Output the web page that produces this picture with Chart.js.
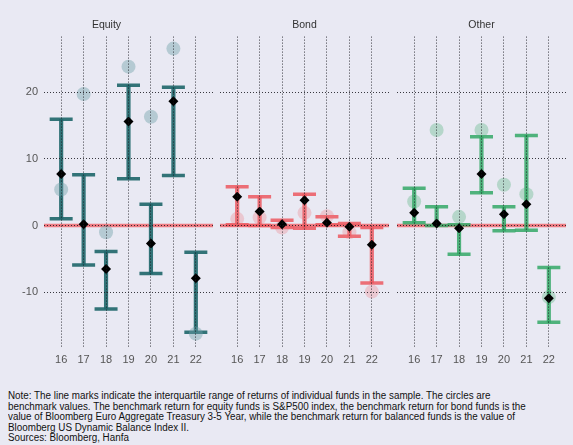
<!DOCTYPE html>
<html>
<head>
<meta charset="utf-8">
<script src="https://cdn.jsdelivr.net/npm/chart.js@4"></script>
<style>
  html, body { margin: 0; padding: 0; width: 573px; height: 445px; overflow: hidden;
    background: #e9e9f3; font-family: "Liberation Sans", Arial, sans-serif; }
  .panel { position: absolute; top: 0; height: 370px; }
  #note { position: absolute; left: 8px; top: 391px; font-size: 10px; line-height: 10.5px;
    color: #111; white-space: nowrap; transform-origin: 0 0; }
  #note div { width: max-content; }
</style>
</head>
<body>
<div class="panel" style="left:0px;width:213px"><canvas id="equity"></canvas></div>
<div class="panel" style="left:220px;width:169px"><canvas id="bond"></canvas></div>
<div class="panel" style="left:397px;width:169px"><canvas id="other"></canvas></div>
<div id="note">
  <div>Note: The line marks indicate the interquartile range of returns of individual funds in the sample. The circles are</div>
  <div>benchmark values. The benchmark return for equity funds is S&amp;P500 index, the benchmark return for bond funds is the</div>
  <div id="longest">value of Bloomberg Euro Aggregate Treasury 3-5 Year, while the benchmark return for balanced funds is the value of</div>
  <div>Bloomberg US Dynamic Balance Index II.</div>
  <div>Sources: Bloomberg, Hanfa</div>
</div>
<script>
// Years (20xx) on the x axis and the labelled y ticks
const years = [16, 17, 18, 19, 20, 21, 22];
const yTicks = [-10, 0, 10, 20];
const zeroLevel = 0;

// Equity funds: interquartile range, median, benchmark (S&P500)
const equityLow       = [1.0, -5.9, -12.5, 7.0, -7.2, 7.5, -16.0];
const equityHigh      = [15.9, 7.6, -3.9, 21.0, 3.2, 20.7, -4.0];
const equityMedian    = [7.7, 0.2, -6.5, 15.6, -2.7, 18.6, -7.9];
const equityBenchmark = [5.4, 19.7, -1.0, 23.8, 16.3, 26.5, -16.2];

// Bond funds
const bondLow       = [0.1, 0.0, -0.3, -0.4, 0.1, -1.6, -8.6];
const bondHigh      = [5.8, 4.3, 0.8, 4.7, 1.3, 0.3, -0.3];
const bondMedian    = [4.3, 2.1, 0.2, 3.8, 0.4, -0.2, -2.9];
const bondBenchmark = [1.0, 1.2, -0.3, 1.9, 1.4, -1.0, -9.9];

// Other (balanced) funds
const otherLow       = [0.4, 0.0, -4.3, 4.9, -0.8, -0.7, -14.5];
const otherHigh      = [5.6, 2.8, 0.1, 13.3, 2.8, 13.5, -6.3];
const otherMedian    = [1.9, 0.3, -0.4, 7.7, 1.7, 3.2, -10.9];
const otherBenchmark = [3.6, 14.3, 1.3, 14.3, 6.1, 4.7, -10.7];

const X_MIN = 15.235, X_MAX = 22.765;
const Y_MIN = -18.2, Y_MAX = 28.3;

Chart.defaults.font.family = '"Liberation Sans", Arial, sans-serif';
Chart.defaults.animation = false;

const gridStyle = { color: 'rgba(25,25,30,0.85)', lineWidth: 1, drawTicks: false, z: 1 };
const dotted = { display: false, dash: [1, 2] };

function makePanel(canvasId, title, low, high, median, bench, lineColor, circleColor, firstPanel) {
  const pts = arr => years.map((x, i) => ({ x: x, y: arr[i] }));
  new Chart(document.getElementById(canvasId), {
    type: 'bar',
    data: {
      datasets: [
        { type: 'line', data: [{ x: X_MIN, y: zeroLevel }, { x: X_MAX, y: zeroLevel }],
          borderColor: 'rgba(238,85,92,0.75)', borderWidth: 3.5, pointRadius: 0, order: 10 },
        { type: 'bar', data: years.map((x, i) => ({ x: x, y: [low[i], high[i]] })),
          backgroundColor: lineColor, barThickness: 3.5, borderWidth: 0, order: 6 },
        { type: 'scatter', data: pts(low), pointStyle: 'line', pointRadius: 11.5,
          borderColor: lineColor, pointBorderWidth: 3.5, order: 5 },
        { type: 'scatter', data: pts(high), pointStyle: 'line', pointRadius: 11.5,
          borderColor: lineColor, pointBorderWidth: 3.5, order: 5 },
        { type: 'scatter', data: pts(bench), pointStyle: 'circle', pointRadius: 7,
          backgroundColor: circleColor, borderWidth: 0, pointBorderWidth: 0, order: 3 },
        { type: 'scatter', data: pts(median), pointStyle: 'rectRot', pointRadius: 5,
          backgroundColor: '#000', borderWidth: 0, pointBorderWidth: 0, order: 1 }
      ]
    },
    options: {
      responsive: true,
      maintainAspectRatio: false,
      layout: { padding: 0, autoPadding: false },
      plugins: {
        legend: { display: false },
        tooltip: { enabled: false },
        title: { display: true, text: title, color: '#333', font: { size: 10.5, weight: 'normal' },
                 padding: { top: 19, bottom: 5 } }
      },
      scales: {
        x: {
          type: 'linear', min: X_MIN, max: X_MAX, offset: false,
          grid: Object.assign({}, gridStyle, { offset: false }),
          border: dotted,
          afterBuildTicks: s => { s.ticks = years.map(v => ({ value: v })); },
          afterFit: s => { s.height = 23; },
          ticks: { color: '#555', font: { size: 11 }, padding: 6, callback: v => String(v) }
        },
        y: {
          type: 'linear', min: Y_MIN, max: Y_MAX,
          grid: gridStyle,
          border: dotted,
          afterBuildTicks: s => { s.ticks = yTicks.map(v => ({ value: v })); },
          afterFit: s => { s.width = firstPanel ? 44 : 0; },
          ticks: { display: firstPanel, color: '#555', font: { size: 11 }, padding: 6 }
        }
      }
    }
  });
}

makePanel('equity', 'Equity', equityLow, equityHigh, equityMedian, equityBenchmark,
          'rgba(34,104,108,0.92)', 'rgba(110,160,168,0.42)', true);
makePanel('bond', 'Bond', bondLow, bondHigh, bondMedian, bondBenchmark,
          'rgba(236,88,95,0.85)', 'rgba(236,110,120,0.28)', false);
makePanel('other', 'Other', otherLow, otherHigh, otherMedian, otherBenchmark,
          'rgba(52,168,102,0.85)', 'rgba(70,175,115,0.32)', false);

// Fit the note block to its column width
const note = document.getElementById('note');
const longest = document.getElementById('longest').getBoundingClientRect().width;
note.style.transform = 'scaleX(' + (507 / longest) + ')';
</script>
</body>
</html>
